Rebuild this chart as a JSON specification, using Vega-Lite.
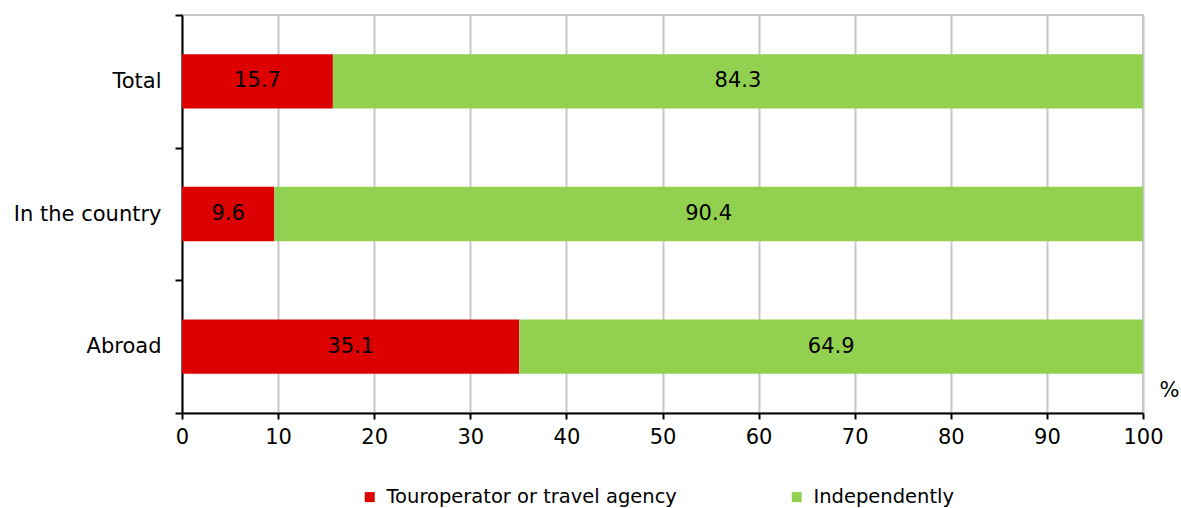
{
  "$schema": "https://vega.github.io/schema/vega-lite/v6.json",
  "width": 961,
  "height": 398,
  "autosize": {"type": "none"},
  "padding": {"left": 182, "top": 15, "right": 38, "bottom": 95},
  "background": "white",
  "config": {
    "font": "DejaVu Sans",
    "view": {"stroke": "#c8c8c8", "strokeWidth": 2}
  },
  "data": {
    "values": [
      {"destination": "Total", "organisation": "Touroperator or travel agency", "share": 15.7},
      {"destination": "Total", "organisation": "Independently", "share": 84.3},
      {"destination": "In the country", "organisation": "Touroperator or travel agency", "share": 9.6},
      {"destination": "In the country", "organisation": "Independently", "share": 90.4},
      {"destination": "Abroad", "organisation": "Touroperator or travel agency", "share": 35.1},
      {"destination": "Abroad", "organisation": "Independently", "share": 64.9}
    ]
  },
  "transform": [
    {
      "stack": "share",
      "groupby": ["destination"],
      "sort": [{"field": "organisation", "order": "descending"}],
      "as": ["share_start", "share_end"]
    }
  ],
  "encoding": {
    "y": {
      "field": "destination",
      "type": "nominal",
      "sort": ["Total", "In the country", "Abroad"],
      "scale": {"paddingInner": 0, "paddingOuter": 0},
      "axis": {
        "title": null,
        "tickBand": "extent",
        "domainColor": "black",
        "domainWidth": 2,
        "tickColor": "black",
        "tickWidth": 2,
        "tickSize": 7,
        "labelFontSize": 21,
        "labelColor": "black",
        "labelPadding": 14
      }
    }
  },
  "layer": [
    {
      "mark": {"type": "bar", "height": {"band": 0.41}},
      "encoding": {
        "x": {
          "field": "share_end",
          "type": "quantitative",
          "title": "%",
          "scale": {"domain": [0, 100], "nice": false},
          "axis": {
            "values": [0, 10, 20, 30, 40, 50, 60, 70, 80, 90, 100],
            "titleFontSize": 21,
            "titleFontWeight": "normal",
            "titleColor": "black",
            "titleX": 987,
            "titleY": -23,
            "titleAlign": "center",
            "titleBaseline": "middle",
            "grid": true,
            "gridColor": "#c8c8c8",
            "gridWidth": 2,
            "domainColor": "black",
            "domainWidth": 2,
            "tickColor": "black",
            "tickWidth": 2,
            "tickSize": 6,
            "labelFontSize": 21,
            "labelColor": "black",
            "labelPadding": 7,
            "labelFlush": false
          }
        },
        "x2": {"field": "share_start"},
        "color": {
          "field": "organisation",
          "type": "nominal",
          "scale": {
            "domain": ["Touroperator or travel agency", "Independently"],
            "range": ["#dd0000", "#92d050"]
          },
          "legend": {
            "title": null,
            "orient": "none",
            "legendX": 178,
            "legendY": 472,
            "direction": "horizontal",
            "columns": 2,
            "columnPadding": 110,
            "symbolType": "square",
            "symbolSize": 100,
            "symbolStrokeWidth": 0,
            "labelFontSize": 19.5,
            "labelColor": "black",
            "labelOffset": 7,
            "labelLimit": 500
          }
        }
      }
    },
    {
      "transform": [
        {"fold": ["share_start", "share_end"], "as": ["edge", "edge_value"]},
        {
          "aggregate": [{"op": "mean", "field": "edge_value", "as": "share_mid"}],
          "groupby": ["destination", "organisation", "share"]
        }
      ],
      "mark": {"type": "text", "fontSize": 21, "color": "black", "align": "center", "baseline": "middle"},
      "encoding": {
        "x": {"field": "share_mid", "type": "quantitative", "title": "%"},
        "text": {"field": "share", "type": "quantitative", "format": ".1f"}
      }
    }
  ]
}
